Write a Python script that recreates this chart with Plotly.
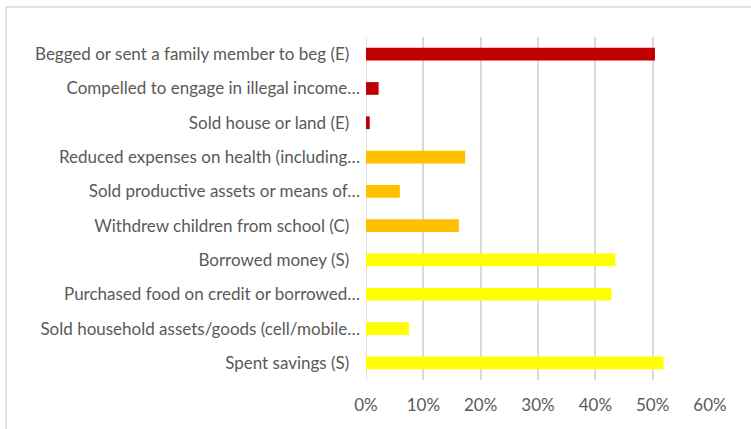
import plotly.graph_objects as go

# Coping strategies, listed top to bottom
categories = [
    "Begged or sent a family member to beg (E)",
    "Compelled to engage in illegal income…",
    "Sold house or land (E)",
    "Reduced expenses on health (including…",
    "Sold productive assets or means of…",
    "Withdrew children from school (C)",
    "Borrowed money (S)",
    "Purchased food on credit or borrowed…",
    "Sold household assets/goods (cell/mobile…",
    "Spent savings (S)",
]
shares = [0.504, 0.022, 0.0065, 0.173, 0.059, 0.162, 0.435, 0.428, 0.075, 0.519]
severity = ["E", "E", "E", "C", "C", "C", "S", "S", "S", "S"]
severity_colors = {"E": "#C00000", "C": "#FFC000", "S": "#FFFF00"}
tick_values = [0, 0.1, 0.2, 0.3, 0.4, 0.5, 0.6]
tick_text = ["0%", "10%", "20%", "30%", "40%", "50%", "60%"]

# Full labels sit a little further left than truncated ones
display = [c if c.endswith("…") else c + "\u2002\u2009" for c in categories]

fig = go.Figure(
    go.Bar(
        x=shares,
        y=display,
        orientation="h",
        marker=dict(color=[severity_colors[s] for s in severity], line=dict(width=0)),
        hoverinfo="skip",
    )
)

text_color = "#595959"
grid_color = "#d9d9d9"

fig.update_layout(
    width=751,
    height=429,
    margin=dict(l=366, r=41, t=37, b=49),
    paper_bgcolor="white",
    plot_bgcolor="white",
    bargap=0.63,
    showlegend=False,
    font=dict(family="Lato, Carlito, Calibri, sans-serif", size=17, color=text_color),
    xaxis=dict(
        range=[0, 0.6],
        tickvals=tick_values,
        ticktext=tick_text,
        showgrid=True,
        gridcolor=grid_color,
        gridwidth=1.5,
        zeroline=False,
        showline=False,
        ticks="",
        ticklabelstandoff=13,
        fixedrange=True,
    ),
    yaxis=dict(
        categoryorder="array",
        categoryarray=display,
        autorange="reversed",
        showgrid=False,
        zeroline=False,
        showline=False,
        ticks="",
        ticklabelstandoff=5,
        fixedrange=True,
    ),
    shapes=[
        # outer chart frame (top and left edges)
        dict(type="line", xref="paper", yref="paper",
             x0=-360 / 344, x1=400 / 344, y0=373 / 343, y1=373 / 343,
             line=dict(color=grid_color, width=1.5)),
        dict(type="line", xref="paper", yref="paper",
             x0=-360 / 344, x1=-360 / 344, y0=373 / 343, y1=-60 / 343,
             line=dict(color=grid_color, width=1.5)),
        # vertical axis line at 0%
        dict(type="line", xref="x", yref="paper", x0=0, x1=0, y0=0, y1=1,
             line=dict(color=grid_color, width=1.5), layer="below"),
    ],
)

fig.write_html("out.html")
